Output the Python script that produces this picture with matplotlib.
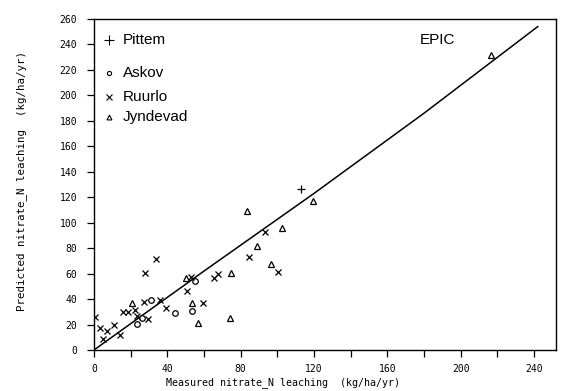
import numpy as np
import matplotlib.pyplot as plt

# measured vs predicted nitrate-N leaching (kg/ha/yr)
pittem_x = [112.8]
pittem_y = [126.5]

askov_x = [31.2, 26.0, 23.7, 44.1, 55.1, 53.7]
askov_y = [39.3, 25.0, 20.3, 29.3, 54.0, 30.4]

ruurlo_x = [34.0, 27.6, 27.2, 36.2, 15.8, 18.5, 22.2, 0.7, 23.2, 29.2,
            3.0, 7.1, 10.9, 5.0, 14.1, 39.5, 50.8, 52.7, 59.4, 65.6,
            67.8, 84.5, 93.2, 100.5]
ruurlo_y = [71.2, 60.7, 37.9, 39.3, 30.0, 30.0, 31.4, 26.2, 26.5, 24.2,
            17.3, 15.0, 20.0, 8.8, 11.8, 32.7, 46.0, 57.0, 36.7, 56.3,
            59.7, 73.3, 93.0, 61.5]

jyndevad_x = [20.7, 50.1, 53.7, 56.7, 74.7, 74.1, 83.5, 89.0, 96.3, 102.6,
              119.5, 216.7]
jyndevad_y = [36.7, 56.8, 36.7, 21.5, 60.7, 25.0, 109.4, 81.7, 67.3, 96.0,
              117.3, 231.7]

# fitted line
fit_x = [0, 60, 120, 180, 242]
fit_y = [0, 62, 123, 186, 254]

mono = 'DejaVu Sans Mono'
sans = 'Liberation Sans'

fig = plt.figure(figsize=(5.68, 3.91), dpi=100)
ax = fig.add_axes([0.1655, 0.1049, 0.8135, 0.8466])

ax.plot(fit_x, fit_y, color='black', lw=1.1)

ax.plot(pittem_x, pittem_y, ls='none', marker='+', ms=6, mew=0.9, color='black')
ax.plot(askov_x, askov_y, ls='none', marker='o', ms=4, mfc='white', mew=0.9, color='black')
ax.plot(ruurlo_x, ruurlo_y, ls='none', marker='x', ms=5, mew=0.9, color='black')
ax.plot(jyndevad_x, jyndevad_y, ls='none', marker='^', ms=4.5, mfc='white', mew=0.9, color='black')

ax.set_xlim(0, 252)
ax.set_ylim(0, 260)
ax.set_xticks(np.arange(0, 241, 20))
ax.set_xticklabels([str(v) if v % 40 == 0 else '' for v in range(0, 241, 20)])
ax.set_yticks(np.arange(0, 261, 20))
ax.tick_params(direction='out', length=5, width=0.9, labelsize=7)
ax.tick_params(axis='y', pad=7)
ax.tick_params(axis='x', pad=5)
for lab in ax.get_xticklabels() + ax.get_yticklabels():
    lab.set_family(mono)

for sp in ax.spines.values():
    sp.set_linewidth(1.0)

ax.set_xlabel('Measured nitrate_N leaching  (kg/ha/yr)', family=mono, fontsize=7.2)
ax.xaxis.set_label_coords(0.41, -0.082)
ax.set_ylabel('Predicted nitrate_N leaching  (kg/ha/yr)', family=mono, fontsize=7.8)
ax.yaxis.set_label_coords(-0.145, 0.51)

# hand-placed key, as in the original
key = [('+', 'Pittem', 0.937, 7), ('o', 'Askov', 0.837, 3),
       ('x', 'Ruurlo', 0.764, 4), ('^', 'Jyndevad', 0.704, 3.5)]
for m, name, yy, ms in key:
    ax.plot([0.032], [yy], transform=ax.transAxes, marker=m, ms=ms, mfc='white',
            mew=0.8, color='black', ls='none', clip_on=False)
    ax.text(0.062, yy, name, transform=ax.transAxes, va='center', ha='left',
            family=sans, fontsize=11)

ax.text(0.706, 0.937, 'EPIC', transform=ax.transAxes, va='center', ha='left',
        family=sans, fontsize=11)

fig.savefig('out.png', dpi=100)
